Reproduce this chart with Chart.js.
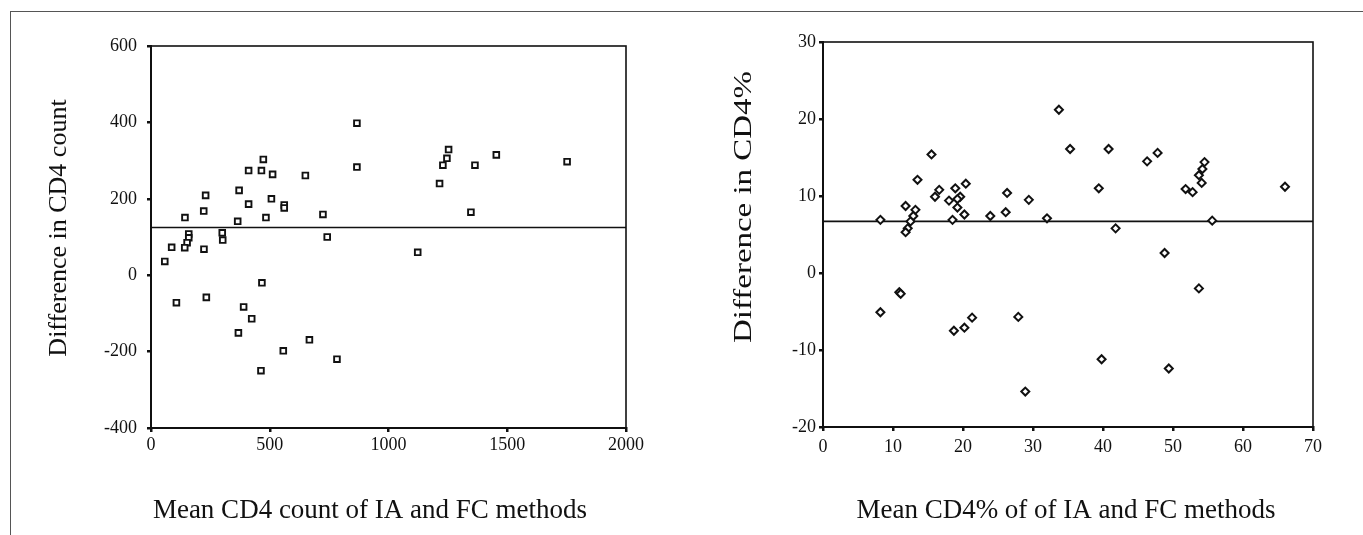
<!DOCTYPE html>
<html>
<head>
<meta charset="utf-8">
<script src="https://cdn.jsdelivr.net/npm/chart.js@4.4.1/dist/chart.umd.min.js"></script>
<style>
html, body { margin: 0; padding: 0; background: #fff; }
#page { position: relative; width: 1363px; height: 535px; overflow: hidden; }
#frame { position: absolute; left: 10px; top: 11px; width: 1400px; height: 600px;
         border-top: 1.5px solid #555; border-left: 1.5px solid #555; }
.box { position: absolute; top: 0; height: 535px; }
#left { left: 0; width: 690px; }
#right { left: 690px; width: 673px; }
</style>
</head>
<body>
<div id="page">
  <div id="frame"></div>
  <div class="box" id="left"><canvas id="cd4Count"></canvas></div>
  <div class="box" id="right"><canvas id="cd4Pct"></canvas></div>
</div>
<script>
// left panel: CD4 count (mean of IA and FC vs difference)
const countMean = [867, 867, 473, 411, 465, 512, 650, 371, 230, 411, 507, 561, 561, 222, 143, 724, 365, 484,
  300, 302, 159, 159, 152, 142, 87, 223, 742, 58, 467, 233, 107, 390, 424, 368, 667, 557, 783, 463,
  1253, 1246, 1229, 1364, 1454, 1752, 1215, 1347, 1123];
const countDiff = [398, 283, 303, 274, 274, 264, 261, 222, 209, 186, 200, 184, 176, 168, 151, 159, 141, 151,
  111, 92, 108, 98, 85, 72, 73, 68, 100, 36, -20, -58, -72, -83, -114, -151, -169, -198, -220, -250,
  329, 306, 288, 288, 315, 297, 240, 165, 60];
const countMeanDiff = 125;
const countXTicks = [0, 500, 1000, 1500, 2000];
const countYTicks = [-400, -200, 0, 200, 400, 600];

// right panel: CD4 percentage
const pctMean = [8.2, 11.8, 13.2, 12.9, 12.5, 12.1, 11.8, 13.5, 15.5, 16.0, 16.6, 18.0, 18.9, 19.6, 19.2, 19.2,
  20.4, 18.5, 20.2, 23.9, 26.1, 26.3, 29.4, 32.0, 10.9, 11.1, 8.2, 18.7, 20.2, 21.3, 27.9, 28.9,
  33.7, 35.3, 40.8, 39.4, 41.8, 46.3, 47.8, 51.8, 52.8, 54.5, 54.2, 53.7, 54.1, 66.0, 55.6, 48.8,
  53.7, 39.8, 49.4];
const pctDiff = [6.9, 8.7, 8.2, 7.4, 6.7, 5.8, 5.3, 12.1, 15.4, 9.9, 10.8, 9.4, 11.0, 9.9, 8.5, 9.6,
  11.6, 6.9, 7.6, 7.4, 7.9, 10.4, 9.5, 7.1, -2.5, -2.7, -5.1, -7.5, -7.1, -5.8, -5.7, -15.4,
  21.2, 16.1, 16.1, 11.0, 5.8, 14.5, 15.6, 10.9, 10.5, 14.4, 13.5, 12.7, 11.7, 11.2, 6.8, 2.6,
  -2.0, -11.2, -12.4];
const pctMeanDiff = 6.7;
const pctXTicks = [0, 10, 20, 30, 40, 50, 60, 70];
const pctYTicks = [-20, -10, 0, 10, 20, 30];

const INK = '#111';
const SERIF = "'Liberation Serif', 'Times New Roman', serif";

// box round the plot area + free-standing axis titles
const framePlugin = {
  id: 'plotFrame',
  afterDraw(chart) {
    const { ctx, chartArea: a } = chart;
    ctx.save();
    ctx.strokeStyle = INK;
    ctx.lineWidth = 1.6;
    ctx.strokeRect(a.left, a.top, a.right - a.left, a.bottom - a.top);
    ctx.restore();

    const items = chart.options.plugins.axisText.items;
    items.forEach(t => {
      ctx.save();
      ctx.fillStyle = INK;
      ctx.font = t.size + 'px ' + SERIF;
      ctx.textAlign = 'center';
      ctx.textBaseline = 'middle';
      ctx.translate(t.x, t.y);
      if (t.rotate) ctx.rotate(-Math.PI / 2);
      if (t.len) {
        const w = ctx.measureText(t.text).width;
        ctx.scale(t.len / w, 1);
      }
      ctx.fillText(t.text, 0, 0);
      ctx.restore();
    });
  }
};

function axis(ticks, step, fitKey, fitVal, pad) {
  return {
    type: 'linear',
    min: ticks[0],
    max: ticks[ticks.length - 1],
    ticks: {
      stepSize: step, color: INK, padding: pad, font: { family: SERIF, size: 18 },
      callback: v => String(v)
    },
    border: { display: true, color: INK, width: 2 },
    grid: { drawOnChartArea: false, drawTicks: true, tickLength: 4, color: INK, lineWidth: 2.5 },
    afterFit(s) { s[fitKey] = fitVal; }
  };
}

function makeChart(id, xs, ys, mean, xt, yt, o) {
  const pts = xs.map((x, i) => ({ x: x, y: ys[i] }));
  return new Chart(document.getElementById(id), {
    type: 'scatter',
    data: {
      datasets: [
        {
          data: pts,
          pointStyle: o.marker,
          pointRadius: o.radius,
          pointBorderWidth: o.bw,
          pointBorderColor: INK,
          pointBackgroundColor: '#fff'
        },
        {
          type: 'line',
          data: [{ x: xt[0], y: mean }, { x: xt[xt.length - 1], y: mean }],
          borderColor: INK,
          borderWidth: 1.6,
          pointRadius: 0
        }
      ]
    },
    options: {
      responsive: true,
      maintainAspectRatio: false,
      animation: false,
      layout: { padding: o.padding },
      plugins: {
        legend: { display: false },
        tooltip: { enabled: false },
        axisText: { items: o.titles }
      },
      scales: {
        x: axis(xt, xt[1] - xt[0], 'height', o.xh, o.xpad),
        y: axis(yt, yt[1] - yt[0], 'width', o.yw, o.ypad)
      }
    },
    plugins: [framePlugin]
  });
}

makeChart('cd4Count', countMean, countDiff, countMeanDiff, countXTicks, countYTicks, {
  marker: 'rect', radius: 4, bw: 1.9,
  padding: { top: 46, right: 64, bottom: 0, left: 0 },
  xh: 107, yw: 151, xpad: 2, ypad: 10,
  titles: [
    { text: 'Difference in CD4 count', x: 59, y: 228, size: 26, rotate: true },
    { text: 'Mean CD4 count of IA and FC methods', x: 370, y: 511, size: 27 }
  ]
});

makeChart('cd4Pct', pctMean, pctDiff, pctMeanDiff, pctXTicks, pctYTicks, {
  marker: 'rectRot', radius: 4, bw: 2,
  padding: { top: 42, right: 50, bottom: 0, left: 0 },
  xh: 108, yw: 133, xpad: 5, ypad: 3,
  titles: [
    { text: 'Difference in CD4%', x: 54, y: 207, size: 26, rotate: true, len: 272 },
    { text: 'Mean CD4% of of IA and FC methods', x: 376, y: 511, size: 27 }
  ]
});
</script>
</body>
</html>
